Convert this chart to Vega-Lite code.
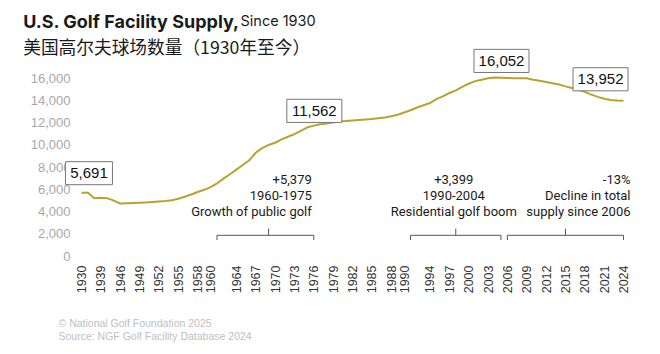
{
  "$schema": "https://vega.github.io/schema/vega-lite/v6.json",
  "background": "white",
  "padding": {"left": 23, "top": 13, "right": 10, "bottom": 5},
  "config": {"view": {"stroke": null}, "font": "Liberation Sans"},
  "title": {
    "text": "U.S. Golf Facility Supply,",
    "subtitle": "美国高尔夫球场数量（1930年至今）",
    "anchor": "start",
    "frame": "bounds",
    "dx": -7,
    "font": "Inter",
    "fontSize": 18,
    "fontWeight": "bold",
    "color": "#1a1a1a",
    "subtitleFont": "Noto Sans CJK SC",
    "subtitleFontSize": 17.7,
    "subtitleColor": "#1a1a1a",
    "subtitlePadding": 8,
    "offset": -45
  },
  "width": 555,
  "height": 178,
  "datasets": {
    "supply": [
      {"year": 1930, "facilities": 5691}, {"year": 1933, "facilities": 5680}, {"year": 1936, "facilities": 5200},
      {"year": 1939, "facilities": 5240}, {"year": 1941, "facilities": 5200}, {"year": 1944, "facilities": 4980},
      {"year": 1946, "facilities": 4720}, {"year": 1947, "facilities": 4740}, {"year": 1948, "facilities": 4760},
      {"year": 1949, "facilities": 4790}, {"year": 1950, "facilities": 4820}, {"year": 1951, "facilities": 4850},
      {"year": 1952, "facilities": 4890}, {"year": 1953, "facilities": 4940}, {"year": 1954, "facilities": 5010},
      {"year": 1955, "facilities": 5150}, {"year": 1956, "facilities": 5330}, {"year": 1957, "facilities": 5530},
      {"year": 1958, "facilities": 5750}, {"year": 1959, "facilities": 5950}, {"year": 1960, "facilities": 6183},
      {"year": 1961, "facilities": 6520}, {"year": 1962, "facilities": 6950}, {"year": 1963, "facilities": 7350},
      {"year": 1964, "facilities": 7760}, {"year": 1965, "facilities": 8180}, {"year": 1966, "facilities": 8600},
      {"year": 1967, "facilities": 9280}, {"year": 1968, "facilities": 9700}, {"year": 1969, "facilities": 9980},
      {"year": 1970, "facilities": 10180}, {"year": 1971, "facilities": 10480}, {"year": 1972, "facilities": 10720},
      {"year": 1973, "facilities": 10950}, {"year": 1974, "facilities": 11250}, {"year": 1975, "facilities": 11562},
      {"year": 1976, "facilities": 11720}, {"year": 1977, "facilities": 11850}, {"year": 1978, "facilities": 11920},
      {"year": 1979, "facilities": 12000}, {"year": 1980, "facilities": 12080}, {"year": 1981, "facilities": 12140},
      {"year": 1982, "facilities": 12180}, {"year": 1983, "facilities": 12230}, {"year": 1984, "facilities": 12280},
      {"year": 1985, "facilities": 12320}, {"year": 1986, "facilities": 12380}, {"year": 1987, "facilities": 12450},
      {"year": 1988, "facilities": 12560}, {"year": 1989, "facilities": 12700}, {"year": 1990, "facilities": 12900},
      {"year": 1991, "facilities": 13100}, {"year": 1992, "facilities": 13350}, {"year": 1993, "facilities": 13550},
      {"year": 1994, "facilities": 13750}, {"year": 1995, "facilities": 14100}, {"year": 1996, "facilities": 14350},
      {"year": 1997, "facilities": 14650}, {"year": 1998, "facilities": 14880}, {"year": 1999, "facilities": 15200},
      {"year": 2000, "facilities": 15480}, {"year": 2001, "facilities": 15720}, {"year": 2002, "facilities": 15850},
      {"year": 2003, "facilities": 15980}, {"year": 2004, "facilities": 16052}, {"year": 2005, "facilities": 16030},
      {"year": 2006, "facilities": 16000}, {"year": 2007, "facilities": 15980}, {"year": 2008, "facilities": 15980},
      {"year": 2009, "facilities": 15970}, {"year": 2010, "facilities": 15850}, {"year": 2011, "facilities": 15750},
      {"year": 2012, "facilities": 15640}, {"year": 2013, "facilities": 15530}, {"year": 2014, "facilities": 15420},
      {"year": 2015, "facilities": 15250}, {"year": 2016, "facilities": 15100}, {"year": 2017, "facilities": 14950},
      {"year": 2018, "facilities": 14750}, {"year": 2019, "facilities": 14500}, {"year": 2020, "facilities": 14300},
      {"year": 2021, "facilities": 14140}, {"year": 2022, "facilities": 14020}, {"year": 2023, "facilities": 13970},
      {"year": 2024, "facilities": 13952}
    ],
    "callouts": [
      {"year": 1930, "facilities": 5691, "label": "5,691"},
      {"year": 1975, "facilities": 11562, "label": "11,562"},
      {"year": 2004, "facilities": 16052, "label": "16,052"},
      {"year": 2024, "facilities": 13952, "label": "13,952"}
    ],
    "periods": [
      {"year": 1961, "end": 1976, "mid": 1969, "note": ["+5,379", "1960-1975", "Growth of public golf"]},
      {"year": 1991, "end": 2005, "mid": 1998, "note": ["+3,399", "1990-2004", "Residential golf boom"]},
      {"year": 2006, "end": 2024, "mid": 2015, "note": ["-13%", "Decline in total", "supply since 2006"]}
    ]
  },
  "layer": [
    {
      "data": {"name": "supply"},
      "mark": {"type": "line", "color": "#b9a230", "strokeWidth": 2, "clip": false},
      "encoding": {
        "x": {
          "field": "year", "type": "ordinal",
          "scale": {"type": "point", "padding": 1.09},
          "axis": {
            "values": [1930, 1939, 1946, 1949, 1952, 1955, 1958, 1960, 1964, 1967, 1970, 1973, 1976, 1979, 1982, 1985, 1988, 1990, 1994, 1997, 2000, 2003, 2006, 2009, 2012, 2015, 2018, 2021, 2024],
            "labelAngle": -90, "labelFontSize": 12.5, "labelColor": "#333333", "labelFont": "Liberation Sans",
            "labelPadding": 9, "ticks": false, "domain": false, "grid": false,
            "title": ["© National Golf Foundation 2025", "Source: NGF Golf Facility Database 2024"],
            "titleFont": "Liberation Sans", "titleFontSize": 10.5, "titleFontWeight": "normal", "titleColor": "#c0c0c0",
            "titleAnchor": "start", "titleAlign": "left", "titleBaseline": "alphabetic",
            "titleX": -17, "titleY": 70, "titleLineHeight": 13
          }
        },
        "y": {
          "field": "facilities", "type": "quantitative",
          "scale": {"domain": [0, 16000], "nice": false},
          "axis": {
            "values": [0, 2000, 4000, 6000, 8000, 10000, 12000, 14000, 16000],
            "tickCount": 12,
            "labelOverlap": false, "labelBound": false,
            "format": ",.0f", "labelFontSize": 13, "labelColor": "#a8a8a8", "labelFont": "Liberation Sans",
            "labelPadding": 5, "ticks": false, "domain": false, "grid": false,
            "title": "Since 1930", "titleAngle": 0, "titleAlign": "left", "titleBaseline": "alphabetic",
            "titleX": 165, "titleY": -53, "titleFont": "Inter", "titleFontSize": 14.5, "titleFontWeight": "normal",
            "titleColor": "#1a1a1a"
          }
        }
      }
    },
    {
      "data": {"name": "periods"},
      "mark": {"type": "rule", "color": "#555555", "strokeWidth": 1},
      "encoding": {"x": {"field": "year", "type": "ordinal"}, "x2": {"field": "end"}, "y": {"datum": 1860}}
    },
    {
      "data": {"name": "periods"},
      "mark": {"type": "rule", "color": "#555555", "strokeWidth": 1},
      "encoding": {"x": {"field": "year", "type": "ordinal"}, "y": {"datum": 1860}, "y2": {"datum": 1430}}
    },
    {
      "data": {"name": "periods"},
      "mark": {"type": "rule", "color": "#555555", "strokeWidth": 1},
      "encoding": {"x": {"field": "end", "type": "ordinal"}, "y": {"datum": 1860}, "y2": {"datum": 1430}}
    },
    {
      "data": {"name": "periods"},
      "mark": {"type": "rule", "color": "#555555", "strokeWidth": 1},
      "encoding": {"x": {"field": "mid", "type": "ordinal"}, "y": {"datum": 1860}, "y2": {"datum": 2460}}
    },
    {
      "data": {"name": "periods"},
      "transform": [{"filter": "datum.year == 1961"}],
      "mark": {"type": "text", "align": "right", "baseline": "middle", "font": "Roboto", "fontSize": 13, "lineHeight": 16, "color": "#1a1a1a", "dx": -2},
      "encoding": {"x": {"field": "end", "type": "ordinal"}, "y": {"datum": 6800}, "text": {"field": "note"}}
    },
    {
      "data": {"name": "periods"},
      "transform": [{"filter": "datum.year == 1991"}],
      "mark": {"type": "text", "align": "center", "baseline": "middle", "font": "Roboto", "fontSize": 13, "lineHeight": 16, "color": "#1a1a1a", "dx": -2},
      "encoding": {"x": {"field": "mid", "type": "ordinal"}, "y": {"datum": 6800}, "text": {"field": "note"}}
    },
    {
      "data": {"name": "periods"},
      "transform": [{"filter": "datum.year == 2006"}],
      "mark": {"type": "text", "align": "right", "baseline": "middle", "font": "Roboto", "fontSize": 13, "lineHeight": 16, "color": "#1a1a1a", "dx": 7},
      "encoding": {"x": {"field": "end", "type": "ordinal"}, "y": {"datum": 6800}, "text": {"field": "note"}}
    },
    {
      "data": {"name": "callouts"},
      "transform": [{"filter": "datum.year == 1930"}],
      "mark": {"type": "point", "shape": "M-1,-0.49L1,-0.49L1,0.49L-1,0.49Z", "size": 2209, "filled": true, "fill": "white", "stroke": "#777777", "strokeWidth": 1, "opacity": 1, "xOffset": 7.5, "yOffset": -19.5},
      "encoding": {"x": {"field": "year", "type": "ordinal"}, "y": {"field": "facilities", "type": "quantitative"}}
    },
    {
      "data": {"name": "callouts"},
      "transform": [{"filter": "datum.year == 1975 || datum.year == 2004"}],
      "mark": {"type": "point", "shape": "M-1,-0.42L1,-0.42L1,0.42L-1,0.42Z", "size": 3025, "filled": true, "fill": "white", "stroke": "#777777", "strokeWidth": 1, "opacity": 1, "xOffset": 7, "yOffset": -16.5},
      "encoding": {"x": {"field": "year", "type": "ordinal"}, "y": {"field": "facilities", "type": "quantitative"}}
    },
    {
      "data": {"name": "callouts"},
      "transform": [{"filter": "datum.year == 2024"}],
      "mark": {"type": "point", "shape": "M-1,-0.42L1,-0.42L1,0.42L-1,0.42Z", "size": 3025, "filled": true, "fill": "white", "stroke": "#777777", "strokeWidth": 1, "opacity": 1, "xOffset": -23, "yOffset": -21.5},
      "encoding": {"x": {"field": "year", "type": "ordinal"}, "y": {"field": "facilities", "type": "quantitative"}}
    },
    {
      "data": {"name": "callouts"},
      "transform": [{"filter": "datum.year == 1930"}],
      "mark": {"type": "text", "font": "Liberation Sans", "fontSize": 15, "color": "#111111", "baseline": "middle", "dx": 7.5, "dy": -19.5},
      "encoding": {"x": {"field": "year", "type": "ordinal"}, "y": {"field": "facilities", "type": "quantitative"}, "text": {"field": "label"}}
    },
    {
      "data": {"name": "callouts"},
      "transform": [{"filter": "datum.year == 1975 || datum.year == 2004"}],
      "mark": {"type": "text", "font": "Liberation Sans", "fontSize": 15, "color": "#111111", "baseline": "middle", "dx": 7, "dy": -16.5},
      "encoding": {"x": {"field": "year", "type": "ordinal"}, "y": {"field": "facilities", "type": "quantitative"}, "text": {"field": "label"}}
    },
    {
      "data": {"name": "callouts"},
      "transform": [{"filter": "datum.year == 2024"}],
      "mark": {"type": "text", "font": "Liberation Sans", "fontSize": 15, "color": "#111111", "baseline": "middle", "dx": -23, "dy": -21.5},
      "encoding": {"x": {"field": "year", "type": "ordinal"}, "y": {"field": "facilities", "type": "quantitative"}, "text": {"field": "label"}}
    }
  ]
}
